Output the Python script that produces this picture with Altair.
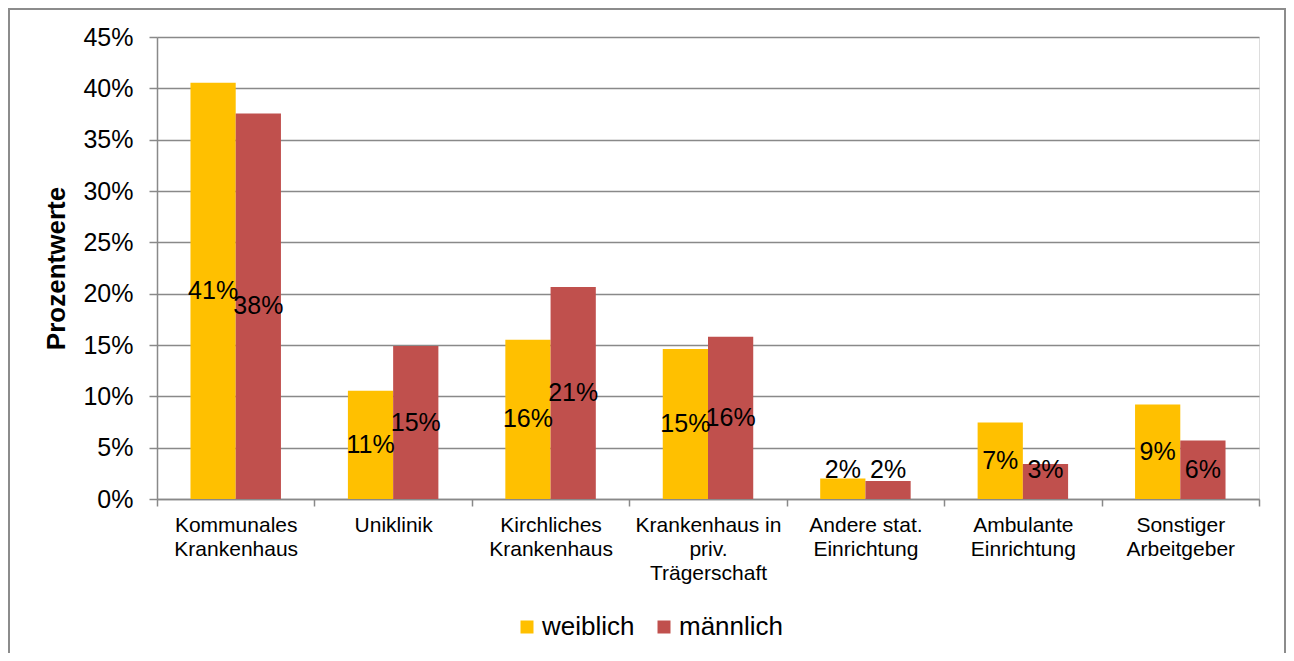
import altair as alt
import pandas as pd

categories = [
    "Kommunales|Krankenhaus",
    "Uniklinik",
    "Kirchliches|Krankenhaus",
    "Krankenhaus in|priv.|Trägerschaft",
    "Andere stat.|Einrichtung",
    "Ambulante|Einrichtung",
    "Sonstiger|Arbeitgeber",
]
groups = ["weiblich", "männlich"]
weiblich = [40.55, 10.55, 15.52, 14.6, 2.0, 7.45, 9.2]
maennlich = [37.55, 14.9, 20.65, 15.8, 1.75, 3.4, 5.7]
colors = ["#FFC000", "#C0504D"]
y_ticks = [0, 5, 10, 15, 20, 25, 30, 35, 40, 45]

rows = []
for i, c in enumerate(categories):
    rows.append({"cat": c, "group": groups[0], "value": weiblich[i]})
    rows.append({"cat": c, "group": groups[1], "value": maennlich[i]})
df = pd.DataFrame(rows)

GRAY = "#898989"
FONT = "Liberation Sans"

x_enc = alt.X(
    "cat:N",
    sort=categories,
    scale=alt.Scale(paddingInner=0, paddingOuter=0),
    axis=alt.Axis(
        title=None,
        labelAngle=0,
        labelExpr="split(datum.label, '|')",
        labelFontSize=21,
        labelLineHeight=24,
        labelColor="black",
        labelFont=FONT,
        labelPadding=8,
        tickBand="extent",
        tickSize=7,
        tickColor=GRAY,
        tickWidth=1.5,
        domainColor=GRAY,
        domainWidth=1.5,
        grid=False,
    ),
)
xo_enc = alt.XOffset(
    "group:N", sort=groups, scale=alt.Scale(paddingInner=0, paddingOuter=0.74)
)
y_scale = alt.Scale(domain=[0, 45], nice=False)

bars = (
    alt.Chart(df)
    .mark_bar()
    .encode(
        x=x_enc,
        xOffset=xo_enc,
        y=alt.Y(
            "value:Q",
            scale=y_scale,
            axis=alt.Axis(
                values=y_ticks,
                labelExpr="datum.value + '%'",
                title="Prozentwerte",
                titleFontSize=26,
                titleFontWeight="bold",
                titleColor="black",
                titleFont=FONT,
                titlePadding=13,
                labelFontSize=25,
                labelColor="black",
                labelFont=FONT,
                labelPadding=16,
                tickSize=8,
                tickColor=GRAY,
                tickWidth=1.5,
                domainColor=GRAY,
                domainWidth=1.5,
                grid=True,
                gridColor=GRAY,
                gridWidth=1.5,
            ),
        ),
        color=alt.Color(
            "group:N",
            sort=groups,
            scale=alt.Scale(domain=groups, range=colors),
            legend=alt.Legend(
                title=None,
                orient="none",
                legendX=357,
                legendY=577,
                direction="horizontal",
                symbolType="square",
                symbolSize=169,
                symbolStrokeWidth=0,
                labelFontSize=26,
                labelFont=FONT,
                labelColor="black",
                labelOffset=2,
                columnPadding=16,
            ),
        ),
    )
)

labels = (
    alt.Chart(df)
    .transform_calculate(
        ly="max(datum.value / 2, 2.8)",
        txt="round(datum.value) + '%'",
    )
    .mark_text(fontSize=25, font=FONT, color="black", align="center", baseline="middle")
    .encode(
        x=alt.X("cat:N", sort=categories),
        xOffset=alt.XOffset("group:N", sort=groups),
        y=alt.Y("ly:Q", scale=y_scale),
        text="txt:N",
    )
)

frame = (
    alt.Chart(pd.DataFrame({"f": [0]}))
    .mark_rect(fill="transparent", stroke="#8c8c8c", strokeWidth=2)
    .encode(
        x=alt.value(-148),
        x2=alt.value(1128),
        y=alt.value(-28),
        y2=alt.value(700),
    )
)

chart = (
    alt.layer(frame, bars, labels)
    .properties(
        width=1102,
        height=462,
        autosize="none",
        padding={"left": 149, "top": 29, "right": 27, "bottom": 154},
    )
    .configure_view(stroke=None)
    .configure(font=FONT)
)

chart.save("out.html", embed_options={"renderer": "svg", "actions": False})
